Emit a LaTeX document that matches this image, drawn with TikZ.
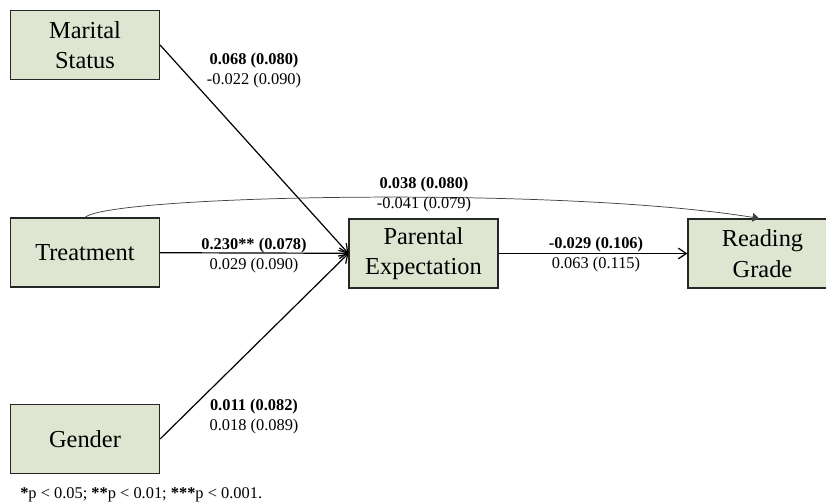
\documentclass[tikz,border=0pt]{standalone}
\usepackage{fontspec}
\setmainfont{Liberation Serif}
\usetikzlibrary{arrows.meta}
\definecolor{boxgreen}{RGB}{222,229,209}
\tikzset{
	box/.style={rectangle,draw=black!85,line width=0.9pt,fill=boxgreen,minimum width=111.75pt,minimum height=51.75pt,align=center,font=\fontsize{18.3}{23}\selectfont},
	coef/.style={align=center,inner sep=0pt,font=\fontsize{12.3}{15}\selectfont},
	link/.style={line width=0.9pt,-{Straight Barb[length=6pt,width=8pt]}},
}
\begin{document}
\begin{tikzpicture}[x=0.75pt,y=-0.75pt]
	\clip (0,0) rectangle (826,504);
	\node[box] (mar) at (85,45) {Marital\\Status};
	\node[box] (treat) at (85,252.5) {Treatment};
	\node[box] (gen) at (85,439) {Gender};
	\node[box] (par) at (423.5,253.5) {Parental\\Expectation};
	\node[box] (read) at (762.5,253.5) {Reading\\Grade};
	\draw[link] (mar.east) -- (par.west);
	\draw[link] (treat) -- (par);
	\draw[link] (gen.east) -- (par.west);
	\draw[link] (par) -- (read);
	\draw[black!75,line width=0.55pt,-{Triangle[length=5pt,width=6.5pt]}] (treat.north) .. controls (110,195) and (560,186) .. ([xshift=-2.5pt]read.north);
	% path coefficients
	\node[coef] (cmar) at (254,71) {\textbf{0.068 (0.080)}\\-0.022 (0.090)};
	\node[coef] (cdir) at (424,195) {\textbf{0.038 (0.080)}\\-0.041 (0.079)};
	\node[coef] (ctreat) at (254,256) {\textbf{0.230** (0.078)}\\0.029 (0.090)};
	\node[coef] (cpar) at (596,255) {\textbf{-0.029 (0.106)}\\0.063 (0.115)};
	\node[coef] (cgen) at (254,417) {\textbf{0.011 (0.082)}\\0.018 (0.089)};
	\node[coef,anchor=west] (note) at (20,495) {\textbf{*}p < 0.05; \textbf{**}p < 0.01; \textbf{***}p < 0.001.};
\end{tikzpicture}
\end{document}
